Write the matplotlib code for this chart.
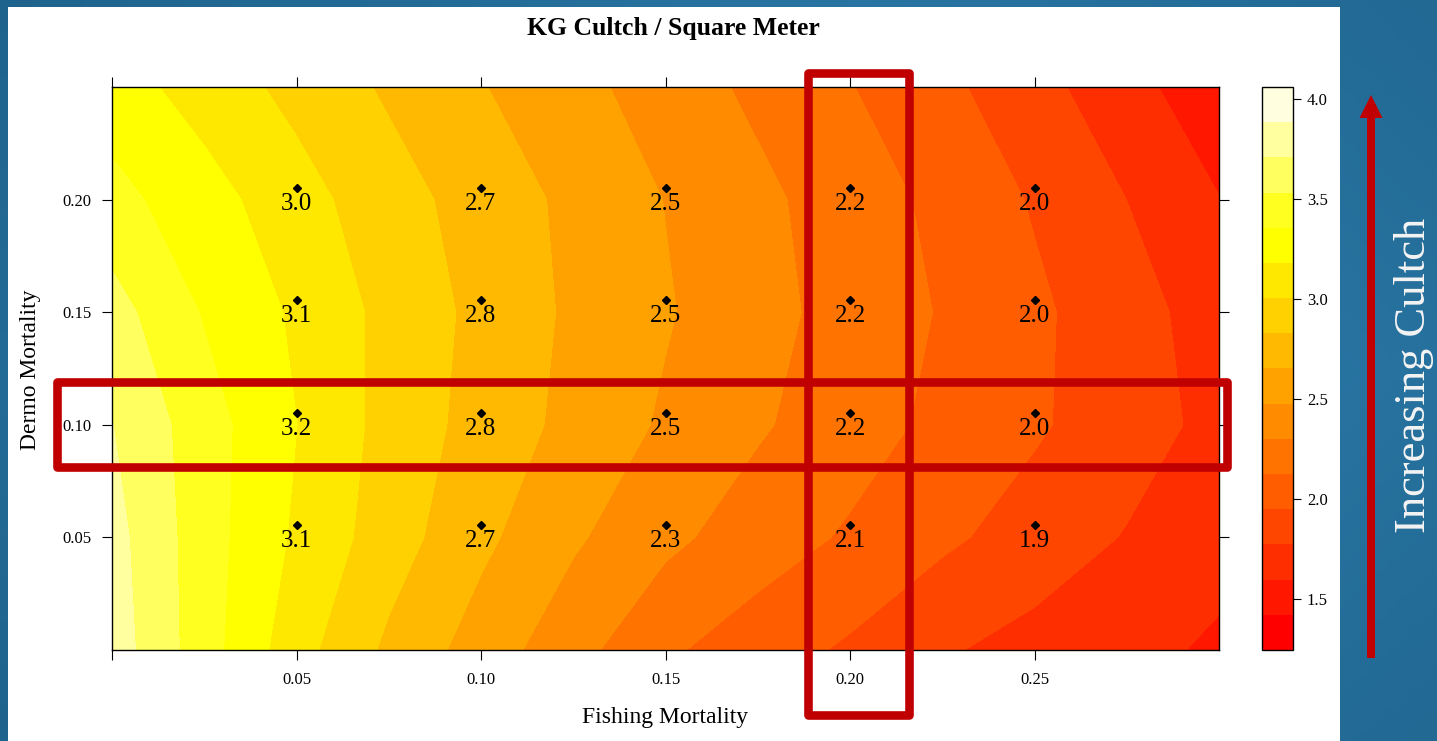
import numpy as np
import matplotlib
matplotlib.use("Agg")
import matplotlib.pyplot as plt
from matplotlib.colors import ListedColormap, BoundaryNorm, LinearSegmentedColormap
from matplotlib.patches import Rectangle, FancyArrow
from matplotlib.transforms import offset_copy

# ---------------------------------------------------------------------------
# Data
# ---------------------------------------------------------------------------
# Grid of the fitted cultch surface (kg / m^2)
fishing_grid = [0.0, 0.025, 0.05, 0.075, 0.10, 0.125, 0.15, 0.175, 0.20, 0.225, 0.25, 0.275, 0.30]
dermo_grid = [0.0, 0.05, 0.10, 0.15, 0.20, 0.25]

cultch_d000 = [3.80, 3.43, 3.07, 2.79, 2.57, 2.36, 2.15, 2.03, 1.92, 1.79, 1.71, 1.64, 1.57]
cultch_d005 = [3.77, 3.43, 3.15, 2.91, 2.69, 2.50, 2.34, 2.21, 2.10, 1.98, 1.87, 1.76, 1.65]
cultch_d010 = [3.71, 3.43, 3.18, 2.94, 2.76, 2.60, 2.45, 2.32, 2.20, 2.08, 1.97, 1.85, 1.72]
cultch_d015 = [3.60, 3.34, 3.15, 2.95, 2.78, 2.62, 2.49, 2.36, 2.23, 2.11, 1.98, 1.84, 1.69]
cultch_d020 = [3.41, 3.25, 3.07, 2.90, 2.75, 2.61, 2.47, 2.34, 2.21, 2.08, 1.93, 1.77, 1.60]
cultch_d025 = [3.26, 3.10, 2.95, 2.80, 2.66, 2.53, 2.39, 2.26, 2.13, 1.99, 1.83, 1.66, 1.47]

# Simulated scenarios shown as labelled points
point_fishing = [0.05, 0.10, 0.15, 0.20, 0.25]
point_dermo = [0.05, 0.10, 0.15, 0.20]
point_d005 = [3.1, 2.7, 2.3, 2.1, 1.9]
point_d010 = [3.2, 2.8, 2.5, 2.2, 2.0]
point_d015 = [3.1, 2.8, 2.5, 2.2, 2.0]
point_d020 = [3.0, 2.7, 2.5, 2.2, 2.0]

# Colour key: 16 equal bands between the surface extremes
z_low, z_high, n_bands = 1.243, 4.058, 16
band_colors = ["#FF0000", "#FF1700", "#FF2E00", "#FF4600", "#FF5D00", "#FF7400",
               "#FF8B00", "#FFA200", "#FFB900", "#FFD100", "#FFE800", "#FFFF00",
               "#FFFF20", "#FFFF60", "#FFFF9F", "#FFFFDF"]
key_ticks = [1.5, 2.0, 2.5, 3.0, 3.5, 4.0]

x_ticks = [0.0, 0.05, 0.10, 0.15, 0.20, 0.25]
x_ticklabels = ["", "0.05", "0.10", "0.15", "0.20", "0.25"]
y_ticks = [0.05, 0.10, 0.15, 0.20]
y_ticklabels = ["0.05", "0.10", "0.15", "0.20"]

highlight_fishing = 0.20
highlight_dermo = 0.10

# ---------------------------------------------------------------------------
W, H = 1437, 741
plt.rcParams["font.family"] = ["Liberation Serif", "DejaVu Serif"]

fig = plt.figure(figsize=(W / 100, H / 100), dpi=100)

# slide background: blue gradient with a white content panel
bg = fig.add_axes([0, 0, 1, 1], zorder=-10)
yy, xx = np.mgrid[0:1:200j, 0:1:400j]
shade = np.clip(1.0 - 0.7 * np.abs(xx - 0.6) - 0.4 * np.abs(yy - 0.5), 0, 1)
slide_cmap = LinearSegmentedColormap.from_list("slide", ["#1D6089", "#2C7BAA"])
bg.imshow(shade, cmap=slide_cmap, extent=(0, W, H, 0), aspect="auto", vmin=0.3, vmax=0.95)
bg.add_patch(Rectangle((8, 7), 1332, H, facecolor="white", edgecolor="none"))
bg.set_xlim(0, W)
bg.set_ylim(H, 0)
bg.axis("off")

# main panel
ax = fig.add_axes([112 / W, 1 - 650 / H, (1219 - 112) / W, (650 - 87) / H])
surface = np.array([cultch_d000, cultch_d005, cultch_d010,
                    cultch_d015, cultch_d020, cultch_d025])
levels = np.linspace(z_low, z_high, n_bands + 1)
cmap = ListedColormap(band_colors)
norm = BoundaryNorm(levels, cmap.N)
cs = ax.contourf(fishing_grid, dermo_grid, surface, levels=levels, cmap=cmap, norm=norm)

ax.set_xlim(0, 0.30)
ax.set_ylim(0, 0.25)
ax.set_xticks(x_ticks)
ax.set_xticklabels(x_ticklabels)
ax.set_yticks(y_ticks)
ax.set_yticklabels(y_ticklabels)
ax.tick_params(direction="out", length=7, width=0.8, labelsize=12,
               top=True, right=True, labeltop=False, labelright=False)
ax.tick_params(axis="x", pad=9)
ax.tick_params(axis="y", pad=8)
for sp in ax.spines.values():
    sp.set_linewidth(1.0)

# labelled scenario points
marker_tr = offset_copy(ax.transData, fig=fig, x=0, y=12, units="dots")
label_tr = offset_copy(ax.transData, fig=fig, x=0, y=-4, units="dots")
for d, row in zip(point_dermo, [point_d005, point_d010, point_d015, point_d020]):
    for f, v in zip(point_fishing, row):
        ax.plot([f], [d], marker="D", ms=4.3, color="black", transform=marker_tr,
                linestyle="none", clip_on=False)
        ax.text(f, d, f"{v:.1f}", ha="center", va="center", fontsize=18,
                color="black", transform=label_tr)

# highlight boxes around the F = 0.20 column and D = 0.10 row
box_kw = dict(fill=False, edgecolor="#C00000", linewidth=6.2, joinstyle="round",
              clip_on=False, zorder=10)
ax.add_patch(Rectangle((highlight_fishing - 0.0114, -0.0289), 0.0274, 0.2853, **box_kw))
ax.add_patch(Rectangle((-0.0148, highlight_dermo - 0.0187), 0.3170, 0.0377, **box_kw))

# colour key
cax = fig.add_axes([1262 / W, 1 - 650 / H, 31 / W, (650 - 87) / H])
cb = fig.colorbar(cs, cax=cax, ticks=key_ticks)
cb.minorticks_off()
cb.ax.set_yticklabels([f"{t:.1f}" for t in key_ticks])
cb.ax.tick_params(direction="out", length=6, width=0.8, labelsize=12, pad=4)
cb.outline.set_linewidth(1.0)

# titles
fig.text(673 / W, 1 - 28 / H, "KG Cultch / Square Meter", ha="center", va="center",
         fontsize=18.5, fontweight="bold")
fig.text(665 / W, 1 - 717 / H, "Fishing Mortality", ha="center", va="center", fontsize=17)
fig.text(31 / W, 1 - 370 / H, "Dermo Mortality", ha="center", va="center",
         fontsize=17, rotation=90)

# side annotation: arrow and caption on the slide background
ov = fig.add_axes([0, 0, 1, 1], zorder=5)
ov.set_xlim(0, W)
ov.set_ylim(H, 0)
ov.axis("off")
ov.patch.set_alpha(0)
ov.add_patch(FancyArrow(1371, 658, 0, -(658 - 95), width=8, head_width=23,
                        head_length=23, length_includes_head=True,
                        color="#C00000", linewidth=0))
ov.text(1414, 375, "Increasing Cultch", rotation=90, ha="center", va="center",
        color="#F4F4F4", fontsize=32)

fig.savefig("out.png", dpi=100)
